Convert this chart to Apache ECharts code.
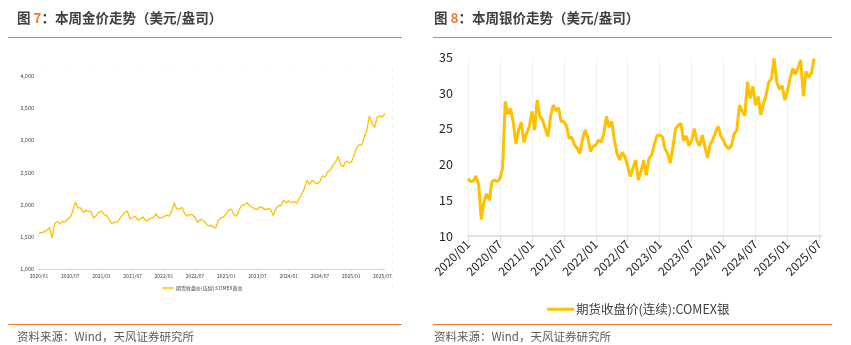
<!DOCTYPE html>
<html><head><meta charset="utf-8">
<script src="https://cdn.jsdelivr.net/npm/echarts@6/dist/echarts.min.js"></script>
<style>html,body{margin:0;padding:0;background:#fff}#c{width:851px;height:345px}</style>
</head><body><div id="c"></div>
<script>
// semi-monthly date categories 2020/01/01 .. 2025/07/16
const dates = [];
for (let y = 2020; y <= 2025; y++) {
  for (let m = 1; m <= 12; m++) {
    if (y === 2025 && m > 7) break;
    for (const d of ['01', '16']) dates.push(y + '/' + String(m).padStart(2, '0') + '/' + d);
  }
}
const xTickLabels = ['2020/01','2020/07','2021/01','2021/07','2022/01','2022/07','2023/01','2023/07','2024/01','2024/07','2025/01','2025/07'];

// COMEX gold (USD/oz), semi-monthly
const goldValues = [
 1550,1570, 1575,1600, 1645,1485, 1700,1740, 1700,1740, 1730,1780,
 1800,1900, 2040,1950, 1950,1880, 1910,1900, 1890,1790, 1830,1880,
 1900,1850, 1830,1770, 1700,1730, 1730,1780, 1830,1880, 1900,1780,
 1800,1820, 1760,1780, 1810,1750, 1760,1790, 1800,1860, 1790,1800,
 1810,1840, 1820,1900, 2030,1930, 1930,1960, 1860,1820, 1850,1840,
 1800,1720, 1770,1760, 1720,1670, 1680,1650, 1640,1760, 1800,1810,
 1860,1920, 1930,1840, 1820,1930, 1990,2000, 2030,1980, 1960,1930,
 1930,1970, 1950,1920, 1940,1930, 1830,1930, 1990,1980, 2070,2030,
 2060,2030, 2050,2020, 2100,2170, 2250,2380, 2310,2380, 2340,2330,
 2360,2450, 2430,2510, 2540,2610, 2660,2750, 2620,2590, 2680,2650,
 2660,2750, 2880,2930, 2920,3050, 3150,3380, 3260,3200, 3360,3380,
 3360,3420
];
// COMEX silver (USD/oz), semi-monthly
const silverValues = [
 18.0,17.6, 17.7,18.4, 17.2,12.3, 14.8,15.9, 15.0,17.6, 17.8,17.6,
 18.0,19.5, 28.8,27.0, 27.8,25.9, 22.9,24.8, 25.9,23.1, 24.3,25.2,
 27.4,24.8, 29.0,26.7, 26.2,25.0, 23.9,26.7, 28.3,27.5, 27.9,26.0,
 26.0,25.4, 23.6,23.8, 22.7,22.3, 21.5,23.5, 24.8,23.8, 21.8,22.5,
 22.7,23.4, 23.1,24.2, 26.7,25.2, 26.0,23.4, 21.5,20.6, 21.7,21.0,
 19.8,18.3, 19.5,20.6, 17.8,19.0, 20.6,18.5, 20.8,21.3, 22.8,24.0,
 24.1,23.9, 22.2,21.5, 20.2,22.5, 25.0,25.5, 25.7,23.3, 24.0,22.6,
 23.3,25.0, 23.3,22.6, 24.1,22.5, 20.9,22.8, 23.5,24.5, 25.3,23.9,
 23.4,22.5, 22.2,22.6, 24.3,24.8, 28.3,27.4, 26.8,31.5, 29.2,30.9,
 28.3,29.5, 26.9,28.5, 29.7,31.5, 32.0,34.8, 31.5,30.5, 31.0,29.0,
 30.2,32.0, 33.4,32.6, 33.5,34.6, 29.5,33.0, 32.2,32.7, 34.8
];
const goldTicks = [1000,1500,2000,2500,3000,3500,4000];
const silverTicks = [10,15,20,25,30,35];

const FONT = '"Noto Sans CJK SC","Microsoft YaHei",sans-serif';
const isTick = (idx, val) => { const v = typeof val === 'string' ? val : dates[idx]; return v.endsWith('/01') && xTickLabels.includes(v.slice(0, 7)); };
const fmtK = v => String(v).replace(/\B(?=(\d{3})+(?!\d))/g, ',');
const goldName = '期货收盘价(连续):COMEX黄金';
const silverName = '期货收盘价(连续):COMEX银';
const titleRich = {
  a: {fontSize: 13.5, fontWeight: 'bold', color: '#404040', fontFamily: FONT},
  b: {fontSize: 13.5, fontWeight: 'bold', color: '#ED7D31', fontFamily: FONT}
};
const footStyle = {fontSize: 11.5, fontWeight: 'normal', color: '#595959', fontFamily: FONT};

const chart = echarts.init(document.getElementById('c'), null, {renderer: 'canvas'});
chart.setOption({
  animation: false,
  backgroundColor: '#fff',
  title: [
    {text: '{a|图 }{b|7}{a|：本周金价走势（美元/盎司）}', left: 17, top: 11, padding: 0, textStyle: {rich: titleRich}},
    {text: '{a|图 }{b|8}{a|：本周银价走势（美元/盎司）}', left: 434, top: 11, padding: 0, textStyle: {rich: titleRich}},
    {text: '资料来源：Wind，天风证券研究所', left: 17, top: 331, padding: 0, textStyle: footStyle},
    {text: '资料来源：Wind，天风证券研究所', left: 434, top: 331, padding: 0, textStyle: footStyle}
  ],
  graphic: [
    {type: 'line', shape: {x1: 8, y1: 37.5, x2: 402, y2: 37.5}, style: {stroke: '#ED7D31', lineWidth: 1}},
    {type: 'line', shape: {x1: 433, y1: 37.5, x2: 832, y2: 37.5}, style: {stroke: '#ED7D31', lineWidth: 1}},
    {type: 'line', shape: {x1: 8, y1: 324.5, x2: 402, y2: 324.5}, style: {stroke: '#ED7D31', lineWidth: 1.2}},
    {type: 'line', shape: {x1: 433, y1: 324.5, x2: 832, y2: 324.5}, style: {stroke: '#ED7D31', lineWidth: 1.2}},
    {type: 'line', shape: {x1: 40, y1: 70.5, x2: 392, y2: 70.5}, style: {stroke: '#e6e6e6', lineWidth: 1, lineDash: [1, 24.5]}},
    {type: 'line', shape: {x1: 392.5, y1: 70, x2: 392.5, y2: 292}, style: {stroke: '#e6e6e6', lineWidth: 1, lineDash: [1.5, 6.5]}}
  ],
  legend: [
    {data: [goldName], left: 162, top: 285.5, icon: 'rect', itemWidth: 12, itemHeight: 1.5, itemGap: 4, padding: 0,
     itemStyle: {color: '#FFC000'},
     textStyle: {fontSize: 5, color: '#404040', fontFamily: FONT, padding: [0, 0, 0, -3]}},
    {data: [silverName], left: 547, top: 303, icon: 'rect', itemWidth: 27, itemHeight: 3, padding: 0,
     itemStyle: {color: '#FFC000'},
     textStyle: {fontSize: 12.5, color: '#404040', fontFamily: FONT, padding: [0, 0, 0, -3]}}
  ],
  grid: [
    {left: 39, top: 76, width: 346, height: 193},
    {left: 468, top: 57, width: 354, height: 179}
  ],
  xAxis: [
    {type: 'category', gridIndex: 0, data: dates, boundaryGap: false,
     axisLine: {lineStyle: {color: '#d9d9d9', width: 1}},
     axisTick: {show: true, interval: isTick, length: 2, lineStyle: {color: '#d9d9d9'}},
     axisLabel: {interval: isTick, formatter: v => v.slice(0, 7), fontSize: 5, color: '#404040', margin: 5, fontFamily: FONT},
     splitLine: {show: false}},
    {type: 'category', gridIndex: 1, data: dates, boundaryGap: false,
     axisLine: {lineStyle: {color: '#d9d9d9', width: 1.5}},
     axisTick: {show: true, interval: isTick, length: 5, lineStyle: {color: '#d9d9d9'}},
     axisLabel: {interval: isTick, formatter: v => v.slice(0, 7), rotate: 45, fontSize: 12, color: '#262626', margin: 6, fontFamily: FONT},
     splitLine: {show: true, interval: isTick, lineStyle: {color: '#f3f3f3', width: 1}}}
  ],
  yAxis: [
    {type: 'value', gridIndex: 0, min: goldTicks[0], max: goldTicks[goldTicks.length - 1], interval: 500,
     axisLine: {show: false}, axisTick: {show: false}, splitLine: {show: false},
     axisLabel: {formatter: fmtK, fontSize: 5.5, color: '#404040', margin: 5, fontFamily: FONT}},
    {type: 'value', gridIndex: 1, min: silverTicks[0], max: silverTicks[silverTicks.length - 1], interval: 5,
     axisLine: {show: false}, axisTick: {show: false}, splitLine: {show: false},
     axisLabel: {fontSize: 12.5, color: '#262626', margin: 15, fontFamily: FONT}}
  ],
  series: [
    {name: goldName, type: 'line', xAxisIndex: 0, yAxisIndex: 0, data: goldValues,
     showSymbol: false, symbol: 'none', lineStyle: {color: '#FFC000', width: 1.3}, itemStyle: {color: '#FFC000'}},
    {name: silverName, type: 'line', xAxisIndex: 1, yAxisIndex: 1, data: silverValues,
     showSymbol: false, symbol: 'none', lineStyle: {color: '#FFC000', width: 3}, itemStyle: {color: '#FFC000'}}
  ]
});
</script>
</body></html>
